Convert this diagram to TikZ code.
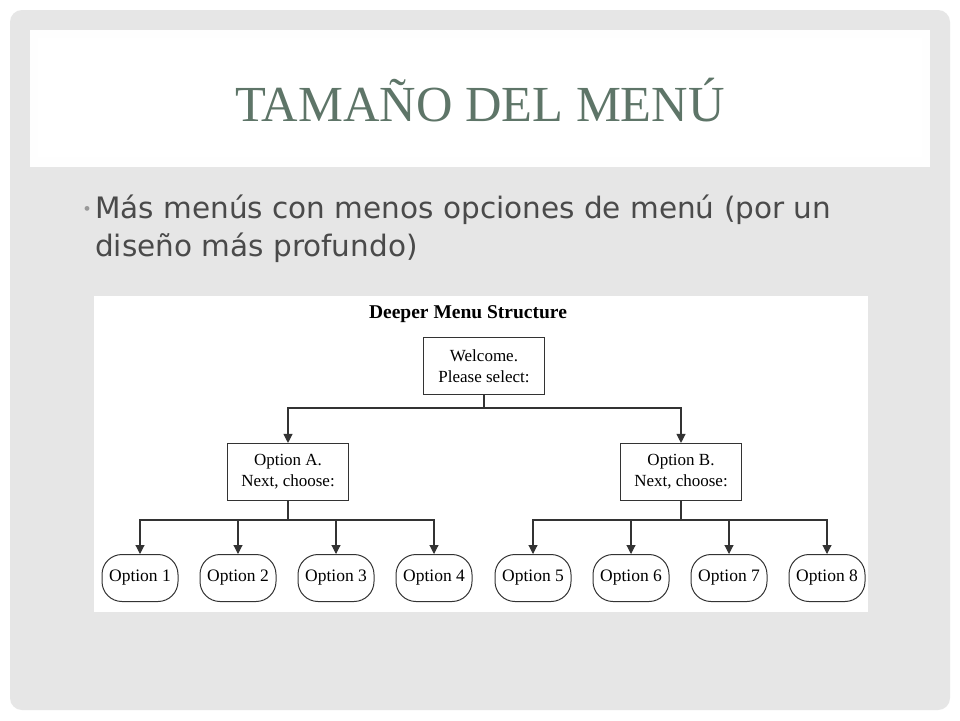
\documentclass[tikz,border=0pt]{standalone}
\usepackage{fontspec}
\setmainfont{Liberation Serif}
\newfontfamily\bodyfont{DejaVu Sans}
\usetikzlibrary{arrows.meta}
\definecolor{panel}{HTML}{E6E6E6}
\definecolor{titlec}{HTML}{5E7568}
\definecolor{bodyc}{HTML}{4A4A4A}
\tikzset{
  x=1pt,y=-1pt,
  box/.style={draw=black!80,line width=1.1pt,fill=white,minimum width=121pt,minimum height=57pt,align=center,font=\fontsize{17}{21}\selectfont,inner sep=0pt},
  pill/.style={draw=black!80,line width=1pt,fill=white,rounded corners=20pt,minimum width=76pt,minimum height=47pt,font=\fontsize{17.5}{21}\selectfont,inner sep=0pt},
  conn/.style={black!80,line width=1.1pt},
  arr/.style={conn,-{Triangle[length=9pt,width=9pt]}}
}
\begin{document}
\begin{tikzpicture}
\useasboundingbox (0,0) rectangle (960,720);
\fill[white] (0,0) rectangle (960,720);
\fill[panel,rounded corners=12pt] (10,10) rectangle (950,710);
\fill[white!96!panel] (30,30) rectangle (930,167);
\fill[white] (38,38) rectangle (922,157);
\node[text=titlec,font=\fontsize{50.5}{56}\selectfont] (title) at (480,100) {TAMA\~NO DEL MEN\'U};
\node[text=gray!80,font=\fontsize{20}{20}\selectfont] (bul) at (87,211) {\textbullet};
\node[anchor=west,text=bodyc,align=left,font=\bodyfont\fontsize{29.5}{38}\selectfont,inner sep=0pt] (body) at (95,229) {Más menús con menos opciones de menú (por un\\diseño más profundo)};
\fill[white] (94,296) rectangle (868,612);
\node[font=\bfseries\fontsize{19.5}{22}\selectfont] (dt) at (468,314) {Deeper Menu Structure};
\node[box] (w) at (484,366) {Welcome.\\Please select:};
\node[box] (a) at (288,472) {Option A.\\Next, choose:};
\node[box] (b) at (681,472) {Option B.\\Next, choose:};
\foreach \i/\x in {1/140,2/238,3/336,4/434,5/533,6/631,7/729,8/827}
  \node[pill] (o\i) at (\x,578) {Option \i};
\coordinate (j0) at (484,408);
\draw[conn] (w.south) -- (j0);
\draw[arr] (j0) -| (a.north);
\draw[arr] (j0) -| (b.north);
\coordinate (ja) at (288,520);
\coordinate (jb) at (681,520);
\draw[conn] (a.south) -- (ja);
\draw[conn] (b.south) -- (jb);
\foreach \i in {1,2,3,4} \draw[arr] (ja) -| (o\i.north);
\foreach \i in {5,6,7,8} \draw[arr] (jb) -| (o\i.north);
\end{tikzpicture}
\end{document}
